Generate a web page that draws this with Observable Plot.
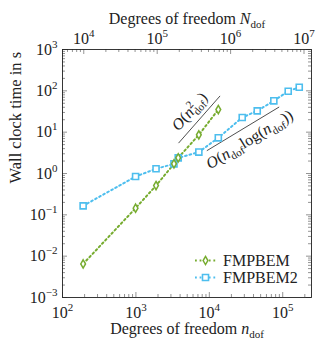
<!DOCTYPE html>
<html><head><meta charset="utf-8">
<script src="https://cdn.jsdelivr.net/npm/d3@7"></script>
<script src="https://cdn.jsdelivr.net/npm/@observablehq/plot@0.6"></script>
<style>
body{margin:0;background:#fff}
#chart svg, #chart svg text, #chart svg tspan { font-family: "Liberation Serif", "Times New Roman", serif !important; }
</style>
</head><body><div id="chart"></div>
<script>
// ---- data ----
const nDof = [191, 990, 1880, 3300, 3770, 7200, 13260, 28070, 44960, 75660, 118800, 167900];
const fmpbemTime = [0.0065, 0.145, 0.51, 1.71, 2.39, 8.6, 35.3];
const fmpbem2Time = [0.165, 0.845, 1.30, 1.71, 2.39, 3.3, 7.3, 22.6, 32.8, 57.3, 97.8, 122];
const seriesNames = ["FMPBEM", "FMPBEM2"];
const NperN = 51.3; // N_dof = 51.3 * n_dof (top axis)
const xTicksBottom = [1e2, 1e3, 1e4, 1e5];
const xTicksTop = [1e4, 1e5, 1e6, 1e7];
const yTicks = [1e-3, 1e-2, 1e-1, 1e0, 1e1, 1e2, 1e3];
const slopeQuad = [{n: 3840, t: 5.52}, {n: 13900, t: 74.1}];
const slopeNlogN = [{n: 9350, t: 3.60}, {n: 88500, t: 40.2}];
const slopeLabels = [
  {n: 5370, t: 31.6, label: "O(n2dof)", angle: -48.7},
  {n: 35300, t: 6.64, label: "O(ndoflog(ndof))", angle: -31.2}
];

const green = "#77ac30", blue = "#4dbeee";
const W = 318, H = 346, mL = 62, mR = 7, mT = 49, mB = 49;
const FW = W - mL - mR, FH = H - mT - mB;
const xDomain = [100, 246600], yDomain = [1e-3, 1e3];
const FONT = "Liberation Serif, Times New Roman, serif";

const d1 = fmpbemTime.map((t, i) => ({n: nDof[i], t}));
const d2 = fmpbem2Time.map((t, i) => ({n: nDof[i], t}));

function minors(lo, hi) {
  const out = [];
  for (let e = Math.floor(Math.log10(lo)); e <= Math.ceil(Math.log10(hi)); e++)
    for (let k = 2; k <= 9; k++) { const v = k * 10 ** e; if (v > lo && v < hi) out.push(v); }
  return out;
}
const botMinor = minors(xDomain[0], xDomain[1]);
const topMinor = minors(xDomain[0] * NperN, xDomain[1] * NperN).map(N => N / NperN);
const topMajor = xTicksTop.map(N => N / NperN);
const yMinor = minors(yDomain[0], yDomain[1]);
const tk = {stroke: "#666", strokeWidth: 0.7};
const MAJ = 5, MIN = 3;
const fmt = d => "10^" + Math.round(Math.log10(d));

const lineStyle = {strokeWidth: 2, strokeDasharray: "1.8 2.8"};

const plot = Plot.plot({
  width: W, height: H,
  marginLeft: mL, marginRight: mR, marginTop: mT, marginBottom: mB,
  style: {fontFamily: FONT, fontSize: "16px", background: "white", color: "#222"},
  x: {type: "log", domain: xDomain},
  y: {type: "log", domain: yDomain},
  marks: [
    Plot.tickX(xTicksBottom, {x: d => d, insetTop: FH - MAJ, ...tk}),
    Plot.tickX(botMinor, {x: d => d, insetTop: FH - MIN, ...tk}),
    Plot.tickX(topMajor, {x: d => d, insetBottom: FH - MAJ, ...tk}),
    Plot.tickX(topMinor, {x: d => d, insetBottom: FH - MIN, ...tk}),
    Plot.tickY(yTicks, {y: d => d, insetRight: FW - MAJ, ...tk}),
    Plot.tickY(yMinor, {y: d => d, insetRight: FW - MIN, ...tk}),
    Plot.tickY(yTicks, {y: d => d, insetLeft: FW - MAJ, ...tk}),
    Plot.tickY(yMinor, {y: d => d, insetLeft: FW - MIN, ...tk}),
    Plot.axisX({anchor: "bottom", ticks: xTicksBottom, tickSize: 0, tickPadding: 9, tickFormat: fmt, label: null, fontSize: 16}),
    Plot.axisX({anchor: "top", ticks: topMajor, tickSize: 0, tickPadding: 6, tickFormat: d => fmt(d * NperN), label: null, fontSize: 16}),
    Plot.axisY({anchor: "left", ticks: yTicks, tickSize: 0, tickPadding: 5, tickFormat: fmt, label: null, fontSize: 16}),
    Plot.text(["Degrees of freedom ndof"], {frameAnchor: "bottom", dy: 36, fontSize: 16}),
    Plot.text(["Degrees of freedom Ndof"], {frameAnchor: "top", dy: -37, fontSize: 16}),
    Plot.text(["Wall clock time in s"], {frameAnchor: "left", dx: -46.5, dy: 10, rotate: -90, fontSize: 16.5}),
    Plot.line(slopeQuad, {x: "n", y: "t", stroke: "#222", strokeWidth: 0.8}),
    Plot.line(slopeNlogN, {x: "n", y: "t", stroke: "#222", strokeWidth: 0.8}),
    Plot.text(slopeLabels, {x: "n", y: "t", text: "label", rotate: "angle", fontSize: 16}),
    Plot.line(d1, {x: "n", y: "t", stroke: green, ...lineStyle}),
    Plot.line(d2, {x: "n", y: "t", stroke: blue, ...lineStyle}),
    Plot.dot(d2, {x: "n", y: "t", symbol: "square", r: 3.4, stroke: blue, fill: "white", strokeWidth: 1.6}),
    Plot.dot(d1, {x: "n", y: "t", symbol: "diamond", r: 2.5, stroke: green, fill: "white", strokeWidth: 1.5}),
    Plot.frame({stroke: "#222", strokeWidth: 0.9})
  ]
});

// ---- rich text (superscripts, subscripts, italics) ----
const SUB = 11;
const richMap = {
  "Degrees of freedom ndof": [["Degrees of freedom "], ["n", {i: 1}], ["dof", {s: SUB, dy: 4}]],
  "Degrees of freedom Ndof": [["Degrees of freedom "], ["N", {i: 1}], ["dof", {s: SUB, dy: 4}]],
  "O(n2dof)": [["O", {i: 1}], ["("], ["n", {i: 1}], ["2", {s: SUB, dy: -6}], ["dof", {s: SUB, dx: -5.5, dy: 10}], [")", {dy: -4}]],
  "O(ndoflog(ndof))": [["O", {i: 1}], ["("], ["n", {i: 1}], ["dof", {s: SUB, dy: 4}], ["log(", {dy: -4}], ["n", {i: 1}], ["dof", {s: SUB, dy: 4}], ["))", {dy: -4}]]
};
d3.select(plot).selectAll("text").each(function () {
  const s = this.textContent;
  let parts = richMap[s];
  const m = /^10\^(-?\d+)$/.exec(s);
  if (m) parts = [["10"], [m[1].replace("-", "\u2212"), {s: SUB, dy: -7}]];
  if (!parts) return;
  const el = d3.select(this);
  el.text(null);
  for (const [t, o = {}] of parts) {
    const ts = el.append("tspan").text(t);
    if (o.i) ts.attr("font-style", "italic");
    if (o.s) ts.attr("font-size", o.s);
    if (o.dy) ts.attr("dy", o.dy);
    if (o.dx) ts.attr("dx", o.dx);
  }
});

// ---- legend (inside frame, bottom right) ----
const lg = d3.select(plot).append("g").attr("font-family", FONT).attr("font-size", 16)
  .attr("fill", "#222").attr("text-anchor", "start");
const legendRows = [
  {name: seriesNames[0], color: green, sym: d3.symbolDiamond, size: Math.PI * 2.5 * 2.5, sw: 1.5},
  {name: seriesNames[1], color: blue, sym: d3.symbolSquare, size: Math.PI * 3.4 * 3.4, sw: 1.6}
];
const lx0 = W - mR - 116, lx1 = W - mR - 95, ly0 = H - mB - 36.5, lstep = 17;
legendRows.forEach((r, i) => {
  const y = ly0 + i * lstep;
  lg.append("line").attr("x1", lx0).attr("x2", lx1).attr("y1", y).attr("y2", y)
    .attr("stroke", r.color).attr("stroke-width", 2).attr("stroke-dasharray", "1.8 2.8");
  lg.append("path").attr("d", d3.symbol(r.sym, r.size)())
    .attr("transform", `translate(${(lx0 + lx1) / 2},${y})`)
    .attr("fill", "white").attr("stroke", r.color).attr("stroke-width", r.sw);
  lg.append("text").attr("x", lx1 + 7).attr("y", y).attr("dy", "0.33em").text(r.name);
});

document.getElementById("chart").appendChild(plot);
</script>
</body></html>
